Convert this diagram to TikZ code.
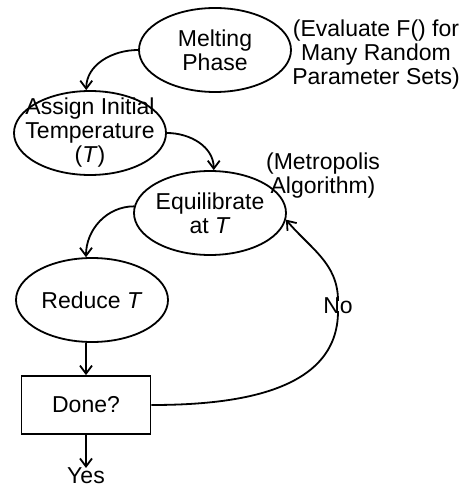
\documentclass[tikz,border=0pt]{standalone}
\usepackage{fontspec}
\setmainfont{Liberation Sans}
\usetikzlibrary{positioning, arrows.meta, shapes.geometric}
\tikzset{
every node/.style = {font = \fontsize{23}{24}\selectfont},
stage/.style = {ellipse, draw, line width = 1.8pt, inner sep = -16pt,
   minimum width = 152pt, minimum height = 84pt, align = center},
test/.style = {rectangle, draw, line width = 1.8pt, minimum width = 129pt,
   minimum height = 58pt, align = center},
remark/.style = {align = center, inner sep = 0pt},
flow/.style = {-{Straight Barb[length = 8pt, width = 12pt]}, line width = 1.8pt},
loop/.style = {line width = 1.8pt}
}

\begin{document}
\begin{tikzpicture}[x = 1pt, y = -1pt]
\useasboundingbox (0,0) rectangle (463,489);

%% Stages
\node [stage] (melt) at (215,50) {Melting\\Phase};
\node [stage] (assign) at (90,133) {Assign Initial\\Temperature\\(\textit{T})};
\node [stage] (equil) at (210,213) {Equilibrate\\at \textit{T}};
\node [stage] (reduce) at (92,300) {Reduce \textit{T}};
\node [test] (done) at (86,405) {Done?};
\node [remark, anchor = base] (yes) at (86,483) {Yes};

%% Remarks
\node [remark] (evaluate) at (376,55) {(Evaluate F() for\\Many Random\\Parameter Sets)};
\node [remark] (metropolis) at (323,176) {(Metropolis\\Algorithm)};
\node [remark] (no) at (338,306) {No};

%% Flow
\draw [flow] (melt.west) to [out = 180, in = 90] (assign.95);
\draw [flow] (assign.east) to [out = 0, in = 90] (equil.85);
\draw [flow] (equil.175) to [out = 180, in = 90] (reduce.98);
\draw [flow] (reduce.south -| done.north) -- (done.north);
\draw [flow] (done.south) -- ([yshift = -1pt] yes.north);

%% Loop back
\draw [loop] (done.east) to [out = 0, in = -90] ([yshift = 3pt] no.south);
\draw [flow] ([yshift = -3pt] no.north) to [out = 90, in = -50] (equil.-5);

\end{tikzpicture}
\end{document}
